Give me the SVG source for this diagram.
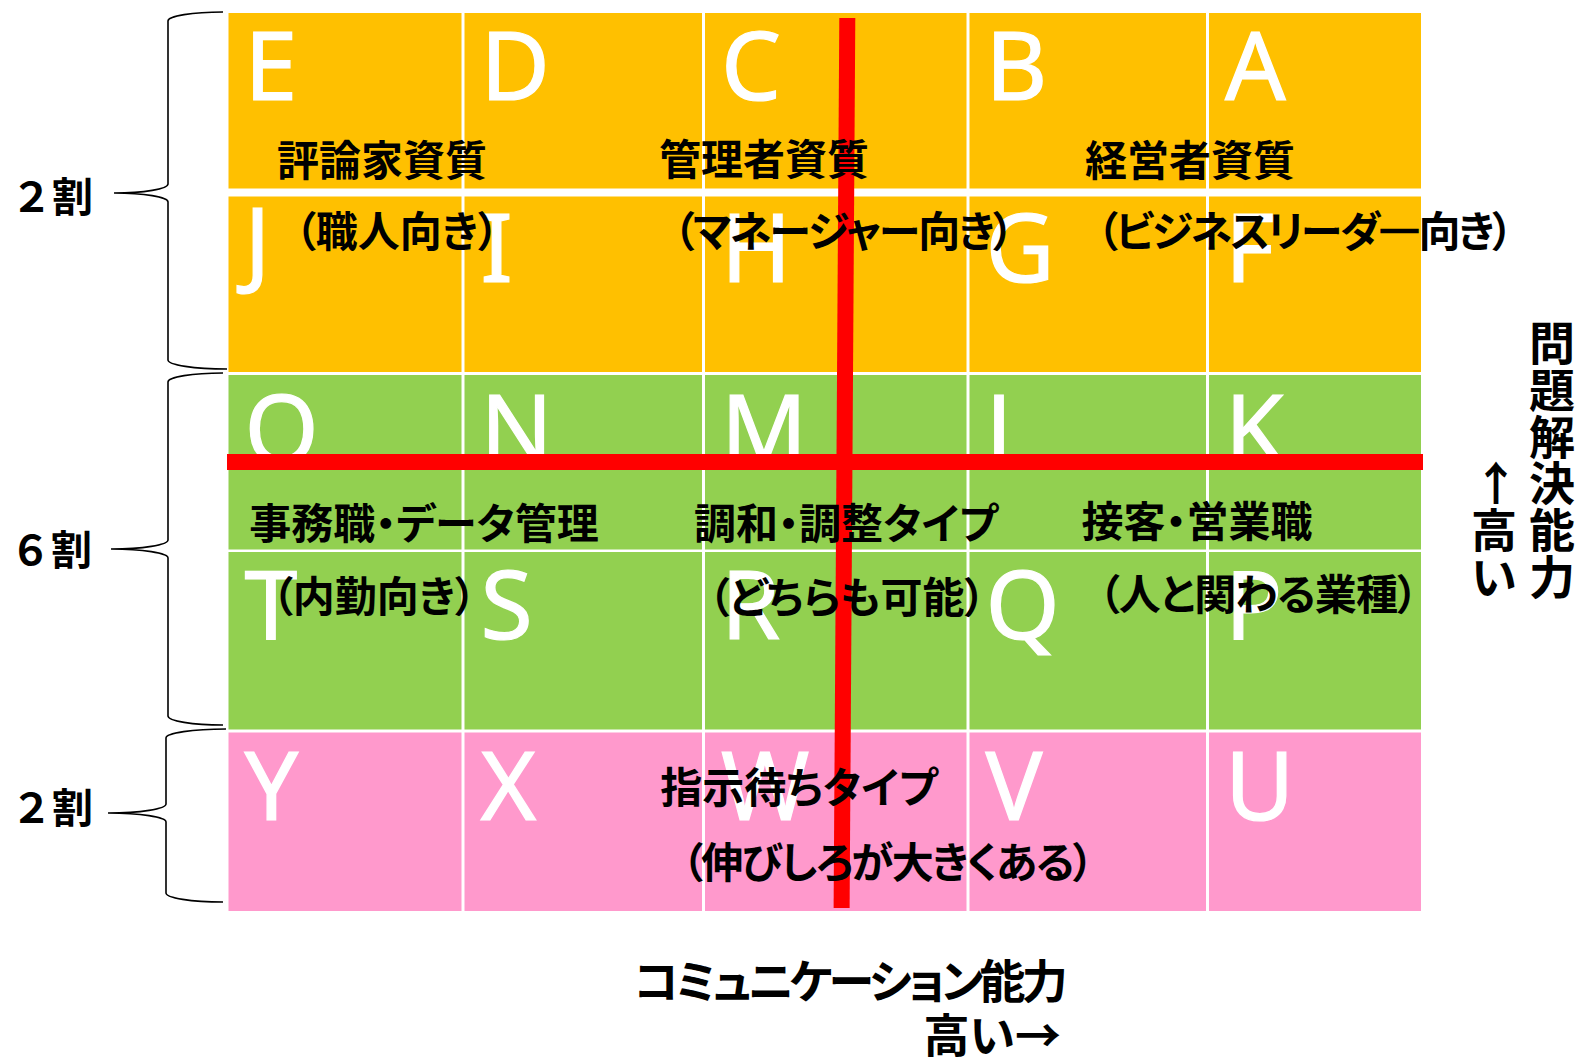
<svg xmlns="http://www.w3.org/2000/svg" width="1578" height="1057" viewBox="0 0 1578 1057">
<style>
.o{fill:#FFC000}.g{fill:#92D050}.p{fill:#FF99CC}
.L{font-family:"Noto Sans","Open Sans","Liberation Sans",sans-serif;font-size:95px;fill:#fff;stroke:#fff;stroke-width:1.2}
.j{font-family:"Noto Sans CJK JP",sans-serif;font-weight:700;font-size:42px;fill:#000;text-anchor:middle;font-feature-settings:"palt"}
.ax{font-family:"Noto Sans CJK JP",sans-serif;font-weight:700;font-size:46px;fill:#000;font-feature-settings:"palt"}
.pc{font-family:"Noto Sans CJK JP",sans-serif;font-weight:700;font-size:41px;fill:#000}
.br{fill:none;stroke:#000;stroke-width:1.6}
</style>
<rect width="1578" height="1057" fill="#fff"/>
<g id="cells">
<g id="cell-E"><rect class="o" x="228.5" y="13" width="233" height="175.5"/><text class="L" x="244.5" y="100">E</text></g>
<g id="cell-D"><rect class="o" x="464.5" y="13" width="237.5" height="175.5"/><text class="L" x="480.5" y="100">D</text></g>
<g id="cell-C"><rect class="o" x="705" y="13" width="261.5" height="175.5"/><text class="L" x="721" y="100">C</text></g>
<g id="cell-B"><rect class="o" x="969.5" y="13" width="236.5" height="175.5"/><text class="L" x="985.5" y="100">B</text></g>
<g id="cell-A"><rect class="o" x="1209" y="13" width="212" height="175.5"/><text class="L" x="1225" y="100">A</text></g>

<g id="cell-J"><rect class="o" x="228.5" y="196.5" width="233" height="175.5"/><text class="L" x="244.5" y="276">J</text></g>
<g id="cell-I"><rect class="o" x="464.5" y="196.5" width="237.5" height="175.5"/><text class="L" x="480.5" y="282">I</text></g>
<g id="cell-H"><rect class="o" x="705" y="196.5" width="261.5" height="175.5"/><text class="L" x="721" y="282">H</text></g>
<g id="cell-G"><rect class="o" x="969.5" y="196.5" width="236.5" height="175.5"/><text class="L" x="985.5" y="282">G</text></g>
<g id="cell-F"><rect class="o" x="1209" y="196.5" width="212" height="175.5"/><text class="L" x="1225" y="282">F</text></g>

<g id="cell-O"><rect class="g" x="228.5" y="375" width="233" height="174.5"/><text class="L" x="244.5" y="463">O</text></g>
<g id="cell-N"><rect class="g" x="464.5" y="375" width="237.5" height="174.5"/><text class="L" x="480.5" y="463">N</text></g>
<g id="cell-M"><rect class="g" x="705" y="375" width="261.5" height="174.5"/><text class="L" x="721" y="463">M</text></g>
<g id="cell-L"><rect class="g" x="969.5" y="375" width="236.5" height="174.5"/><text class="L" x="985.5" y="463">L</text></g>
<g id="cell-K"><rect class="g" x="1209" y="375" width="212" height="174.5"/><text class="L" x="1225" y="463">K</text></g>

<g id="cell-T"><rect class="g" x="228.5" y="552" width="233" height="177.5"/><text class="L" x="244.5" y="639">T</text></g>
<g id="cell-S"><rect class="g" x="464.5" y="552" width="237.5" height="177.5"/><text class="L" x="480.5" y="639">S</text></g>
<g id="cell-R"><rect class="g" x="705" y="552" width="261.5" height="177.5"/><text class="L" x="721" y="639">R</text></g>
<g id="cell-Q"><rect class="g" x="969.5" y="552" width="236.5" height="177.5"/><text class="L" x="985.5" y="639">Q</text></g>
<g id="cell-P"><rect class="g" x="1209" y="552" width="212" height="177.5"/><text class="L" x="1225" y="639">P</text></g>

<g id="cell-Y"><rect class="p" x="228.5" y="732.5" width="233" height="178.5"/><text class="L" x="244.5" y="820">Y</text></g>
<g id="cell-X"><rect class="p" x="464.5" y="732.5" width="237.5" height="178.5"/><text class="L" x="480.5" y="820">X</text></g>
<g id="cell-W"><rect class="p" x="705" y="732.5" width="261.5" height="178.5"/><text class="L" x="721" y="820">W</text></g>
<g id="cell-V"><rect class="p" x="969.5" y="732.5" width="236.5" height="178.5"/><text class="L" x="985.5" y="820">V</text></g>
<g id="cell-U"><rect class="p" x="1209" y="732.5" width="212" height="178.5"/><text class="L" x="1225" y="820">U</text></g>
</g>
<g id="connectors">
<rect x="227" y="454" width="1196" height="16" fill="#FF0000"/>
<line x1="847.3" y1="18" x2="841.6" y2="908" stroke="#FF0000" stroke-width="16"/>
</g>
<g id="braces">
<path class="br" d="M223,12 A55,9 0 0 0 168,21 L168,184 A54,9 0 0 1 114,193 A54,9 0 0 1 168,202 L168,360 A59,9 0 0 0 227,369"/>
<path class="br" d="M223,373 A55,9 0 0 0 168,382 L168,540 A57,9 0 0 1 111,549 A57,9 0 0 1 168,558 L168,716 A55,9 0 0 0 223,725"/>
<path class="br" d="M226,729 A60,9 0 0 0 166,738 L166,804 A58,9 0 0 1 108,813 A58,9 0 0 1 166,822 L166,893 A57,9 0 0 0 223,902"/>
<text class="pc" x="11" y="212">２割</text>
<text class="pc" x="10" y="565">６割</text>
<text class="pc" x="11" y="823">２割</text>
</g>
<g id="labels">
<text class="j" x="382" y="176">評論家資質</text>
<text class="j" x="764" y="175">管理者資質</text>
<text class="j" x="1190" y="176">経営者資質</text>
<text class="j" x="397" y="247">（職人向き）</text>
<text class="j" x="843" y="247" letter-spacing="-1.7">（マネージャー向き）</text>
<text class="j" x="1304" y="247" letter-spacing="-2.2">（ビジネスリーダ<tspan stroke="#000" stroke-width="2.5">―</tspan>向き）</text>
<text class="j" x="424" y="539">事務職・データ管理</text>
<text class="j" x="846" y="539">調和・調整タイプ</text>
<text class="j" x="1197" y="537">接客・営業職</text>
<text class="j" x="374" y="612">（内勤向き）</text>
<text class="j" x="847" y="613">（どちらも可能）</text>
<text class="j" x="1258" y="610" letter-spacing="-0.8">（人と関わる業種）</text>
<text class="j" x="799" y="803">指示待ちタイプ</text>
<text class="j" x="887" y="878" letter-spacing="-1.7">（伸びしろが大きくある）</text>
<text class="ax" x="849" y="998" text-anchor="middle" font-size="44" letter-spacing="-3.8">コミュニケーション能力</text>
<text class="ax" x="1061" y="1052" text-anchor="end" font-size="45">高い→</text>
<text class="ax" text-anchor="middle"><tspan x="1552" y="360">問</tspan><tspan x="1552" y="407">題</tspan><tspan x="1552" y="454">解</tspan><tspan x="1552" y="500">決</tspan><tspan x="1552" y="547">能</tspan><tspan x="1552" y="594">力</tspan></text>
<text class="ax" text-anchor="middle"><tspan x="1496" y="500">↑</tspan><tspan x="1494" y="547">高</tspan><tspan x="1494" y="594">い</tspan></text>
</g>
</svg>
